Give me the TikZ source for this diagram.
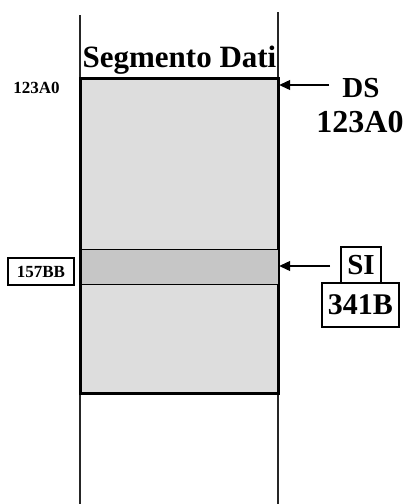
\documentclass[tikz,border=0pt]{standalone}
\usepackage{fontspec}
\setmainfont{Liberation Serif}
\usetikzlibrary{arrows.meta}
\definecolor{segfill}{HTML}{DDDDDD}
\definecolor{bandfill}{HTML}{C6C6C6}
\begin{document}
\begin{tikzpicture}[x=1pt,y=-1pt,
  lbl/.style={font=\bfseries\fontsize{#1}{#1}\selectfont, inner sep=0pt},
  boxed/.style={draw, line width=1.2pt, inner sep=0pt},
  ptr/.style={line width=1.1pt, -{Triangle[length=11pt,width=10pt]}},
  rail/.style={line width=1.2pt, draw=black!85}]
\useasboundingbox (0,0) rectangle (409,504);
% rails
\coordinate (lt) at (80,15); \coordinate (lb) at (80,504);
\coordinate (rt) at (278,12); \coordinate (rb) at (278,504);
\draw[rail] (lt) -- (lb);
\draw[rail] (rt) -- (rb);
% segment
\node[draw, line width=2.4pt, fill=segfill, minimum width=197pt, minimum height=314pt, inner sep=0pt] (seg) at (179.5,236) {};
\node[draw, line width=1pt, fill=bandfill, minimum width=197pt, minimum height=35pt, inner sep=0pt] (band) at (179.5,266.5) {};
\draw[line width=2.4pt] (seg.north west) rectangle (seg.south east);
% title
\node[lbl=31, anchor=base] (title) at (179.5,67) {Segmento Dati};
% left labels
\node[lbl=17, anchor=base] (a0) at (36.5,93) {123A0};
\node[boxed, lbl=17, minimum width=66pt, minimum height=27pt] (bb) at (41,271.5) {157BB};
% DS
\node[lbl=29, anchor=base] (ds) at (361,97) {DS};
\node[lbl=32, anchor=base] (dsv) at (360,132) {123A0};
\coordinate (dsa) at (329,85);
\draw[ptr] (dsa) -- (seg.east |- dsa);
% SI
\node[boxed, lbl=29, minimum width=40pt, minimum height=36pt] (si) at (361,265) {SI};
\node[boxed, lbl=30, minimum width=77pt, minimum height=44pt] (siv) at (360.5,305) {341B};
\coordinate (sia) at (330,266);
\draw[ptr] (sia) -- (seg.east |- sia);
\end{tikzpicture}
\end{document}
